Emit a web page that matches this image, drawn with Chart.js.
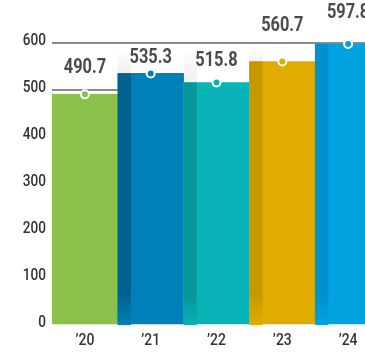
<!DOCTYPE html>
<html>
<head>
<meta charset="utf-8">
<script src="https://cdn.jsdelivr.net/npm/chart.js@4/dist/chart.umd.min.js"></script>
<style>
  html, body { margin: 0; padding: 0; background: #fff; overflow: hidden; }
  canvas { display: block; }
</style>
</head>
<body>
<canvas id="salesChart" width="381" height="353"></canvas>
<script>
// Yearly figures
const years = ['’20', '’21', '’22', '’23', '’24'];
const amounts = [490.7, 535.3, 515.8, 560.7, 597.8];
const yTicks = [0, 100, 200, 300, 400, 500, 600];

// One colour per year, plus the darker edge tone for the shaded side
const barColors = ['#8bc04b', '#0080b8', '#08b3b5', '#e1ab00', '#00a2e0'];
const edgeColors = [null, '#00628f', '#07979a', '#c69800', '#0090cc'];
// how far each value label sits above its point (px)
const labelLift = [27, 16, 22, 36, 31];

const FONT = 'Roboto, "Liberation Sans", sans-serif';

// condensed text: draw with a horizontal scale
function narrowText(ctx, text, x, y, align, font, color, squeeze) {
  ctx.save();
  ctx.translate(x, y);
  ctx.scale(squeeze, 1);
  ctx.font = font;
  ctx.fillStyle = color;
  ctx.textAlign = align;
  ctx.textBaseline = 'middle';
  ctx.fillText(text, 0, 0);
  ctx.restore();
}

// darker strip on the left of each bar (except the first), fading out at top and bottom
const edgeShade = {
  id: 'edgeShade',
  afterDatasetDraw(chart, args) {
    if (args.index !== 0) return;
    const ctx = chart.ctx;
    const y = chart.scales.y;
    const bottom = y.getPixelForValue(0);
    const shadeTop = y.getPixelForValue(580);
    args.meta.data.forEach((bar, i) => {
      if (!edgeColors[i]) return;
      const left = bar.x - bar.width / 2;
      const w = bar.width * 0.2;
      ctx.save();
      const g = ctx.createLinearGradient(0, bar.y, 0, bottom);
      g.addColorStop(0, edgeColors[i]);
      g.addColorStop(0.88, edgeColors[i]);
      g.addColorStop(1, barColors[i]);
      ctx.fillStyle = g;
      ctx.fillRect(left, bar.y, w, bottom - bar.y);
      // faint shadow above the bar
      if (bar.y > shadeTop) {
        const g2 = ctx.createLinearGradient(0, shadeTop, 0, bar.y);
        g2.addColorStop(0, 'rgba(0,0,0,0.01)');
        g2.addColorStop(1, 'rgba(0,0,0,0.06)');
        ctx.fillStyle = g2;
        ctx.fillRect(left, shadeTop, w, bar.y - shadeTop);
      }
      ctx.restore();
    });
  }
};

// axis labels and value labels, all in a condensed look
const textLayer = {
  id: 'textLayer',
  afterDatasetsDraw(chart) {
    const ctx = chart.ctx;
    const area = chart.chartArea;
    const xs = chart.scales.x;
    const ys = chart.scales.y;
    const tickFont = '500 17px ' + FONT;

    yTicks.forEach(v => {
      narrowText(ctx, String(v), area.left - 6, ys.getPixelForValue(v) - 2, 'right', tickFont, '#333', 0.8);
    });
    years.forEach((yr, i) => {
      narrowText(ctx, yr, xs.getPixelForValue(i), area.bottom + 16, 'center', tickFont, '#333', 0.82);
    });

    const meta = chart.getDatasetMeta(1);
    meta.data.forEach((pt, i) => {
      narrowText(ctx, amounts[i].toFixed(1), pt.x, pt.y - labelLift[i], 'center', 'bold 21px ' + FONT, '#4a4a4a', 0.78);
    });
  }
};

new Chart(document.getElementById('salesChart'), {
  data: {
    labels: years,
    datasets: [
      {
        type: 'bar',
        data: amounts,
        backgroundColor: barColors,
        borderWidth: 0,
        barPercentage: 1,
        categoryPercentage: 1,
        order: 2
      },
      {
        type: 'line',
        data: amounts,
        showLine: false,
        pointRadius: 4,
        pointHoverRadius: 4,
        pointBorderWidth: 2,
        pointBorderColor: '#ffffff',
        pointBackgroundColor: barColors,
        clip: false,
        order: 1
      }
    ]
  },
  options: {
    responsive: false,
    animation: false,
    events: [],
    layout: { autoPadding: false, padding: { top: 43, right: 0, bottom: 0, left: 0 } },
    plugins: {
      legend: { display: false },
      tooltip: { enabled: false }
    },
    scales: {
      x: {
        grid: { display: false },
        border: { display: false },
        ticks: { display: false },
        afterFit(scale) {
          scale.height = 28;
        }
      },
      y: {
        min: 0,
        max: 600,
        afterBuildTicks(scale) {
          scale.ticks = yTicks.map(v => ({ value: v }));
        },
        afterFit(scale) {
          scale.width = 52;
        },
        grid: {
          color: c => (c.tick && c.tick.value === 0 ? 'rgba(0,0,0,0)' : '#8a8a8a'),
          lineWidth: 2,
          drawTicks: false
        },
        border: { display: false },
        ticks: { display: false }
      }
    }
  },
  plugins: [edgeShade, textLayer]
});
</script>
</body>
</html>
